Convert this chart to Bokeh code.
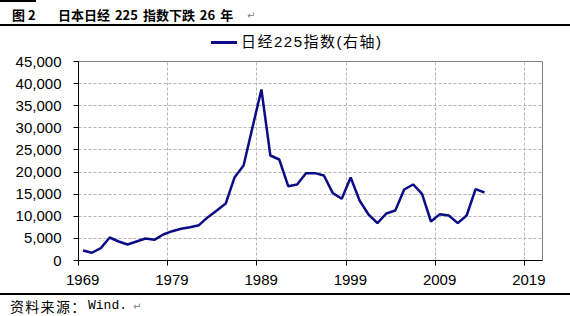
from bokeh.plotting import figure
from bokeh.layouts import column
from bokeh.models import (ColumnDataSource, FixedTicker, NumeralTickFormatter, Range1d, Div)
from bokeh.embed import file_html
from bokeh.resources import INLINE

# ---------------- data ----------------
years = list(range(1969, 2015))
nikkei = [2260, 1750, 2790, 5200, 4300, 3620, 4300, 4980, 4670, 5880,
          6630, 7170, 7540, 7990, 9800, 11300, 12890, 18840, 21480, 30100,
          38670, 23740, 22840, 16810, 17190, 19750, 19750, 19220, 15230, 13950,
          18770, 13570, 10400, 8440, 10630, 11310, 16060, 17190, 15080, 8820,
          10480, 10180, 8440, 10180, 16130, 15380]
x_ticks = [1969, 1979, 1989, 1999, 2009, 2019]
y_ticks = [0, 5000, 10000, 15000, 20000, 25000, 30000, 35000, 40000, 45000]
title_num = "图 2"
title_text = "日本日经 225 指数下跌 26 年"
series_name = "日经225指数(右轴)"
source_cn = "资料来源："
source_en = "Wind."

# ---------------- layout ----------------
W = 570
TOP_H, MAIN_H, BOT_H = 51, 241, 24
NAVY = "#0c0c84"
AX_FONT = "Liberation Sans"
CJK = "Noto Sans CJK SC"

head_html = f"""
<div style="position:relative;width:{W}px;height:{TOP_H}px;background:#fff;font-family:'{CJK}';overflow:hidden;">
  <div style="position:absolute;left:0;top:0;width:36px;height:2px;background:#000;"></div>
  <span style="position:absolute;left:12px;top:5px;font-size:13px;line-height:20px;font-weight:bold;color:#000;white-space:nowrap;">{title_num}</span>
  <span style="position:absolute;left:58px;top:5px;font-size:13px;line-height:20px;font-weight:bold;color:#000;white-space:pre;word-spacing:2px;">{title_text}</span>
  <span style="position:absolute;left:247px;top:6px;font-size:10px;line-height:20px;color:#808080;font-family:'DejaVu Sans';">&#8629;</span>
  <div style="position:absolute;left:0;top:24px;width:{W}px;height:2px;background:#000;"></div>
  <div style="position:absolute;left:211px;top:41px;width:26px;height:2.5px;background:{NAVY};"></div>
  <span style="position:absolute;left:241px;top:33px;font-size:15px;line-height:18px;letter-spacing:1.5px;color:#000;white-space:nowrap;font-family:'{AX_FONT}','{CJK}';">{series_name}</span>
</div>"""
head = Div(text=head_html, width=W, height=TOP_H, margin=(0, 0, 0, 0))

source_html = f"""
<div style="position:relative;width:{W}px;height:{BOT_H}px;background:#fff;">
  <div style="position:absolute;left:0;top:1px;width:{W}px;height:2px;background:#000;"></div>
  <span style="position:absolute;left:10px;top:5px;font-size:14px;line-height:18px;letter-spacing:1.3px;color:#000;white-space:nowrap;font-family:'{CJK}';">{source_cn}</span>
  <span style="position:absolute;left:88px;top:5px;font-size:13px;line-height:18px;color:#000;white-space:nowrap;font-family:'Liberation Mono';">{source_en}</span>
  <span style="position:absolute;left:133px;top:6px;font-size:10px;line-height:18px;color:#808080;font-family:'DejaVu Sans';">&#8629;</span>
</div>"""
foot = Div(text=source_html, width=W, height=BOT_H, margin=(0, 0, 0, 0))

# ---- main chart ----
src = ColumnDataSource(dict(x=[y + 0.5 for y in years], v=nikkei))  # categories centred between ticks

p = figure(width=W, height=MAIN_H, output_backend="svg", toolbar_location=None,
           x_range=Range1d(1969, 2021), y_range=Range1d(0, 45000),
           min_border_left=78, min_border_right=28,
           min_border_top=10, min_border_bottom=32, margin=(0, 0, 0, 0))
p.background_fill_color = "white"
p.border_fill_color = "white"
p.outline_line_color = "#808080"
p.outline_line_width = 1

p.line("x", "v", source=src, line_color=NAVY, line_width=2.5, legend_label=series_name)
p.legend.visible = False

ya = p.yaxis[0]
ya.ticker = FixedTicker(ticks=y_ticks)
ya.formatter = NumeralTickFormatter(format="0,0")
xa = p.xaxis[0]
xa.ticker = FixedTicker(ticks=x_ticks)
xa.major_label_overrides = {t: "\u00a0\u00a0" + str(t) for t in x_ticks}
for ax in (xa, ya):
    ax.axis_line_color = "black"
    ax.major_tick_line_color = "black"
    ax.major_tick_out = 5
    ax.major_tick_in = 0
    ax.minor_tick_line_color = None
    ax.major_label_text_font = AX_FONT
    ax.major_label_text_font_size = "15px"
    ax.major_label_text_color = "black"
ya.major_label_standoff = 12
xa.major_label_standoff = 5

p.xgrid.ticker = FixedTicker(ticks=x_ticks)
p.ygrid.ticker = FixedTicker(ticks=y_ticks)
for g in (p.xgrid, p.ygrid):
    g.grid_line_color = "#b4b4b4"
    g.grid_line_dash = "3 2"
    g.grid_line_width = 1

layout = column(head, p, foot, spacing=0)
open("out.html", "w").write(file_html(layout, INLINE))
